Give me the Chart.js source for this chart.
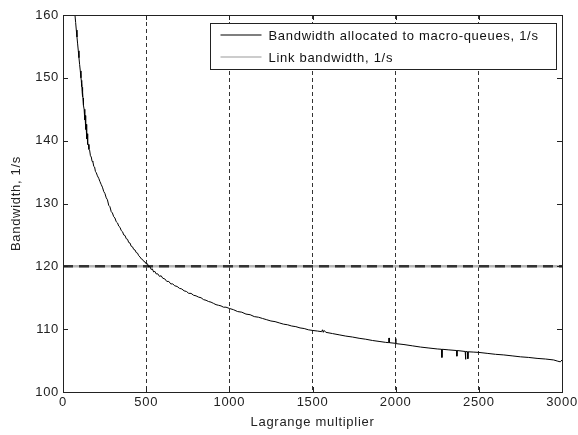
<!DOCTYPE html>
<html>
<head>
<meta charset="utf-8">
<script src="https://cdn.jsdelivr.net/npm/chart.js@4.4.0/dist/chart.umd.min.js"></script>
<style>
html, body { margin: 0; padding: 0; background: #fff; }
#wrap { width: 578px; height: 435px; }
</style>
</head>
<body>
<div id="wrap"><canvas id="bwChart"></canvas></div>
<script>
// Lagrange multiplier values (x) and allocated bandwidth (y)
var lagrangeX = [64, 68, 72, 76, 80, 84, 88, 92, 96, 100, 104, 108, 110, 112, 113, 115, 116, 118, 119, 121,
    122, 124, 127, 130, 132, 133, 135, 136, 138, 139, 141, 142, 144, 145, 147, 148, 150, 153, 156, 160,
    165, 170, 175, 180, 185, 190, 195, 200, 207, 215, 222, 230, 237, 245, 252, 260, 267, 275, 282, 290,
    297, 305, 312, 320, 328, 335, 343, 350, 358, 365, 373, 380, 388, 395, 403, 410, 418, 425, 433, 440,
    448, 455, 463, 470, 478, 485, 493, 500, 508, 515, 522, 530, 537, 545, 552, 560, 570, 580, 590, 600,
    612, 624, 636, 648, 660, 672, 686, 700, 714, 728, 742, 756, 770, 785, 800, 815, 830, 845, 860, 875,
    890, 905, 920, 935, 950, 965, 980, 1000, 1025, 1050, 1075, 1100, 1125, 1150, 1175, 1200, 1225, 1250, 1275, 1300,
    1325, 1350, 1375, 1400, 1425, 1450, 1475, 1500, 1530, 1555, 1560, 1565, 1570, 1580, 1620, 1660, 1700, 1740, 1780, 1820,
    1860, 1900, 1940, 1958, 1960, 1962, 1998, 2000, 2002, 2050, 2100, 2150, 2200, 2250, 2276, 2278, 2280, 2320, 2366, 2368,
    2370, 2418, 2420, 2422, 2432, 2434, 2436, 2470, 2500, 2550, 2600, 2650, 2700, 2750, 2800, 2850, 2900, 2950, 2975, 2990, 3000];
var allocatedBw = [163.5, 161.6, 160.0, 158.8, 157.6, 156.5, 155.4, 154.3, 153.2, 152.1, 151.1, 150.0, 149.6, 148.6, 149.3, 147.8, 148.5, 147.0, 147.7, 146.3,
    146.8, 145.6, 145.0, 144.3, 143.3, 144.0, 142.6, 143.3, 141.8, 142.6, 141.0, 141.8, 140.3, 141.1, 139.7, 140.4, 139.4, 139.4, 138.6, 138.5,
    137.6, 137.4, 136.7, 136.6, 135.9, 135.8, 135.1, 134.9, 134.4, 134.0, 133.5, 133.0, 132.6, 131.9, 131.6, 130.9, 130.6, 129.7, 129.5, 128.7,
    128.5, 127.9, 127.7, 127.1, 126.9, 126.4, 126.2, 125.7, 125.5, 125.0, 124.9, 124.4, 124.3, 123.8, 123.7, 123.2, 123.1, 122.7, 122.6, 122.2,
    122.1, 121.7, 121.5, 121.2, 121.1, 120.8, 120.7, 120.4, 120.4, 119.9, 120.0, 119.5, 119.6, 119.1, 119.2, 118.8, 118.8, 118.4, 118.5, 118.1,
    118.0, 117.6, 117.6, 117.2, 117.2, 116.9, 116.8, 116.5, 116.4, 116.1, 116.0, 115.7, 115.7, 115.4, 115.3, 115.1, 115.0, 114.7, 114.6, 114.4,
    114.3, 114.1, 113.9, 113.8, 113.7, 113.5, 113.5, 113.3, 113.1, 112.8, 112.7, 112.4, 112.3, 112.0, 111.9, 111.7, 111.5, 111.3, 111.2, 111.0,
    110.8, 110.7, 110.5, 110.4, 110.2, 110.1, 109.9, 109.8, 109.7, 109.6, 109.9, 109.5, 109.8, 109.5, 109.3, 109.1, 108.9, 108.75, 108.55, 108.4,
    108.2, 108.05, 107.9, 107.85, 108.6, 107.85, 107.75, 108.5, 107.7, 107.55, 107.35, 107.15, 107.0, 106.85, 106.8, 105.5, 106.8, 106.7, 106.6, 105.7,
    106.6, 106.45, 105.2, 106.45, 106.4, 105.3, 106.4, 106.35, 106.3, 106.15, 106.0, 105.9, 105.75, 105.6, 105.5, 105.35, 105.25, 105.1, 104.9, 104.8, 105.1];

// link bandwidth (constant)
var linkX = [0, 3000];
var linkBw = [120, 120];

var xTicks = [0, 500, 1000, 1500, 2000, 2500, 3000];
var yTicks = [100, 110, 120, 130, 140, 150, 160];

var fontFamily = '"Liberation Sans", Arial, sans-serif';
var spacing = '0.7px';

function toPoints(xs, ys) {
    var pts = [];
    for (var i = 0; i < xs.length; i++) {
        pts.push({ x: xs[i], y: ys[i] });
    }
    return pts;
}

// box around the plot, inward ticks and the legend
var matlabAxes = {
    id: 'matlabAxes',
    beforeLayout: function(chart) {
        chart.ctx.letterSpacing = spacing;
    },
    beforeDraw: function(chart) {
        chart.ctx.letterSpacing = spacing;
    },
    afterDatasetsDraw: function(chart) {
        var ctx = chart.ctx;
        var a = chart.chartArea;
        var xs = chart.scales.x;
        var ys = chart.scales.y;
        ctx.save();
        ctx.strokeStyle = '#222';
        ctx.lineWidth = 1;
        ctx.setLineDash([]);
        ctx.strokeRect(Math.round(a.left) + 0.5, Math.round(a.top) + 0.5,
            Math.round(a.right - a.left), Math.round(a.bottom - a.top));
        ctx.beginPath();
        xTicks.forEach(function(v) {
            var px = Math.round(xs.getPixelForValue(v)) + 0.5;
            ctx.moveTo(px, a.bottom);
            ctx.lineTo(px, a.bottom - 5);
            ctx.moveTo(px, a.top);
            ctx.lineTo(px, a.top + 5);
        });
        yTicks.forEach(function(v) {
            var py = Math.round(ys.getPixelForValue(v)) + 0.5;
            ctx.moveTo(a.left, py);
            ctx.lineTo(a.left + 5, py);
            ctx.moveTo(a.right, py);
            ctx.lineTo(a.right - 5, py);
        });
        ctx.stroke();

        // legend box
        var bx = Math.round(a.right) - 351.5;
        var by = Math.round(a.top) + 8.5;
        var bw = 346;
        var bh = 46;
        ctx.fillStyle = '#fff';
        ctx.fillRect(bx, by, bw, bh);
        ctx.strokeStyle = '#222';
        ctx.strokeRect(bx, by, bw, bh);
        var items = chart.data.datasets.filter(function(d) { return d.inLegend; });
        ctx.font = '13px ' + fontFamily;
        ctx.textBaseline = 'middle';
        ctx.textAlign = 'left';
        items.forEach(function(d, i) {
            var ly = by + 11.5 + i * 22;
            ctx.strokeStyle = d.legendColor;
            ctx.lineWidth = 1.2;
            ctx.beginPath();
            ctx.moveTo(bx + 10, ly);
            ctx.lineTo(bx + 51, ly);
            ctx.stroke();
            ctx.fillStyle = '#111';
            ctx.fillText(d.label, bx + 58, ly + 1);
        });
        ctx.restore();
    }
};

var ctx = document.getElementById('bwChart').getContext('2d');
var bwChart = new Chart(ctx, {
    type: 'line',
    data: {
        datasets: [{
            label: 'Bandwidth allocated to macro-queues, 1/s',
            data: toPoints(lagrangeX, allocatedBw),
            borderColor: '#000',
            legendColor: '#000',
            inLegend: true,
            borderWidth: 1,
            pointRadius: 0,
            tension: 0,
            order: 0
        }, {
            label: 'Link bandwidth, 1/s',
            data: toPoints(linkX, linkBw),
            borderColor: '#b4b4b4',
            legendColor: '#9a9a9a',
            inLegend: true,
            borderWidth: 2.5,
            pointRadius: 0,
            order: 2
        }, {
            label: 'link dashes',
            data: toPoints(linkX, linkBw),
            borderColor: '#333',
            borderWidth: 2.5,
            borderDash: [10, 6],
            pointRadius: 0,
            order: 1
        }]
    },
    options: {
        responsive: true,
        maintainAspectRatio: false,
        animation: false,
        devicePixelRatio: 1,
        layout: { padding: { left: 0, right: 16, top: 15, bottom: 0 } },
        plugins: {
            legend: { display: false },
            tooltip: { enabled: false }
        },
        scales: {
            x: {
                type: 'linear',
                min: 0,
                max: 3000,
                afterBuildTicks: function(scale) {
                    scale.ticks = xTicks.map(function(v) { return { value: v }; });
                },
                afterFit: function(scale) {
                    scale.height = 43;
                    scale.paddingLeft = 0;
                    scale.paddingRight = 0;
                },
                grid: {
                    drawTicks: false,
                    lineWidth: 1,
                    color: function(c) {
                        if (!c.tick || c.tick.value === 0 || c.tick.value === 3000) return 'rgba(0,0,0,0)';
                        return '#333';
                    }
                },
                border: { display: false, dash: [4, 3] },
                ticks: {
                    autoSkip: false,
                    maxRotation: 0,
                    padding: 3,
                    color: '#222',
                    font: { size: 13, family: fontFamily },
                    callback: function(v) { return String(v); }
                },
                title: {
                    display: true,
                    text: 'Lagrange multiplier',
                    color: '#222',
                    font: { size: 13, family: fontFamily },
                    padding: { top: 0, bottom: 5 }
                }
            },
            y: {
                min: 100,
                max: 160,
                afterBuildTicks: function(scale) {
                    scale.ticks = yTicks.map(function(v) { return { value: v }; });
                },
                afterFit: function(scale) {
                    scale.width = 63;
                    scale.paddingTop = 0;
                    scale.paddingBottom = 0;
                },
                grid: { display: false, drawTicks: false },
                border: { display: false },
                ticks: {
                    padding: 4,
                    color: '#222',
                    font: { size: 13, family: fontFamily },
                    callback: function(v) { return String(v); }
                },
                title: {
                    display: true,
                    text: 'Bandwidth, 1/s',
                    color: '#222',
                    font: { size: 13, family: fontFamily },
                    padding: { top: 9, bottom: 0 }
                }
            }
        }
    },
    plugins: [matlabAxes]
});
</script>
</body>
</html>
